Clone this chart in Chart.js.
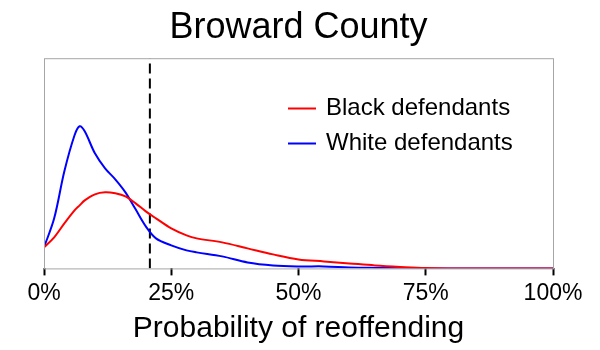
<!DOCTYPE html>
<html>
<head>
<meta charset="utf-8">
<script src="https://cdn.jsdelivr.net/npm/chart.js@4"></script>
<style>
  html, body { margin: 0; padding: 0; background: #fff; }
  #wrap { width: 600px; height: 350px; }
</style>
</head>
<body>
<div id="wrap"><canvas id="densityChart"></canvas></div>
<script>
// probability of reoffending (%) and estimated density for each group
const probs = [0, 2, 4, 6, 7, 8, 10, 12, 14, 16, 18, 20, 22, 25, 28, 30, 35, 40, 45, 50, 55, 60, 65, 70, 75, 80, 90, 100];
const blackDensity = [0.21, 0.31, 0.45, 0.58, 0.63, 0.68, 0.74, 0.76, 0.75, 0.72, 0.65, 0.57, 0.50, 0.40, 0.33, 0.30, 0.26, 0.20, 0.14, 0.09, 0.07, 0.05, 0.03, 0.015, 0.003, 0, 0, 0];
const whiteDensity = [0.21, 0.50, 0.97, 1.33, 1.42, 1.37, 1.15, 1.00, 0.89, 0.76, 0.59, 0.42, 0.30, 0.23, 0.18, 0.16, 0.12, 0.06, 0.03, 0.02, 0.02, 0.01, 0.005, 0.002, 0, 0, 0, 0];
const threshold = 20.8;
const yMax = 2.1;

function toPoints(ys) {
    return probs.map((p, i) => ({ x: p, y: ys[i] }));
}

// frame around the plot area plus the hand-placed legend
const framePlugin = {
    id: "frame",
    afterDraw(chart) {
        const { ctx, chartArea: a } = chart;
        ctx.save();
        ctx.strokeStyle = "#a6a6a6";
        ctx.lineWidth = 1;
        ctx.strokeRect(a.left + 0.5, a.top + 0.5, a.right - a.left, a.bottom - a.top);

        const items = chart.data.datasets.filter(d => !d.hideLegend);
        ctx.font = "24px 'Liberation Sans', Arial, sans-serif";
        ctx.textBaseline = "middle";
        ctx.fillStyle = "#000";
        items.forEach((d, i) => {
            const y = 108.5 + i * 35;
            ctx.strokeStyle = d.borderColor;
            ctx.lineWidth = 2;
            ctx.beginPath();
            ctx.moveTo(288, y);
            ctx.lineTo(316, y);
            ctx.stroke();
            ctx.fillText(d.label, 326, y);
        });
        ctx.restore();
    }
};

new Chart(document.getElementById("densityChart"), {
    type: "line",
    data: {
        datasets: [
            {
                label: "Black defendants",
                data: toPoints(blackDensity),
                borderColor: "#ff0000",
                borderWidth: 2,
                pointRadius: 0,
                tension: 0.35
            },
            {
                label: "White defendants",
                data: toPoints(whiteDensity),
                borderColor: "#0000ff",
                borderWidth: 2,
                pointRadius: 0,
                tension: 0.35
            },
            {
                label: "threshold",
                hideLegend: true,
                data: [{ x: threshold, y: 0 }, { x: threshold, y: yMax }],
                borderColor: "#000",
                borderWidth: 2,
                borderDash: [10, 5],
                pointRadius: 0
            }
        ]
    },
    options: {
        responsive: true,
        maintainAspectRatio: false,
        animation: false,
        layout: { padding: { left: 44, right: 47, top: 0, bottom: 3 } },
        plugins: {
            legend: { display: false },
            tooltip: { enabled: false },
            title: {
                display: true,
                text: "Broward County",
                color: "#000",
                font: { family: "'Liberation Sans', Arial, sans-serif", size: 36, weight: "normal" },
                padding: { top: 6, bottom: 9 }
            }
        },
        scales: {
            x: {
                type: "linear",
                min: 0,
                max: 100,
                border: { display: false },
                grid: {
                    drawOnChartArea: false,
                    drawTicks: true,
                    tickLength: 7,
                    tickColor: "#000",
                    tickWidth: 2
                },
                ticks: {
                    stepSize: 25,
                    padding: 4,
                    color: "#000",
                    font: { family: "'Liberation Sans', Arial, sans-serif", size: 23 },
                    callback: v => v + "%"
                },
                title: {
                    display: true,
                    text: "Probability of reoffending",
                    color: "#000",
                    font: { family: "'Liberation Sans', Arial, sans-serif", size: 30 },
                    padding: { top: 0, bottom: 0 }
                }
            },
            y: {
                display: false,
                min: 0,
                max: yMax
            }
        }
    },
    plugins: [framePlugin]
});
</script>
</body>
</html>
